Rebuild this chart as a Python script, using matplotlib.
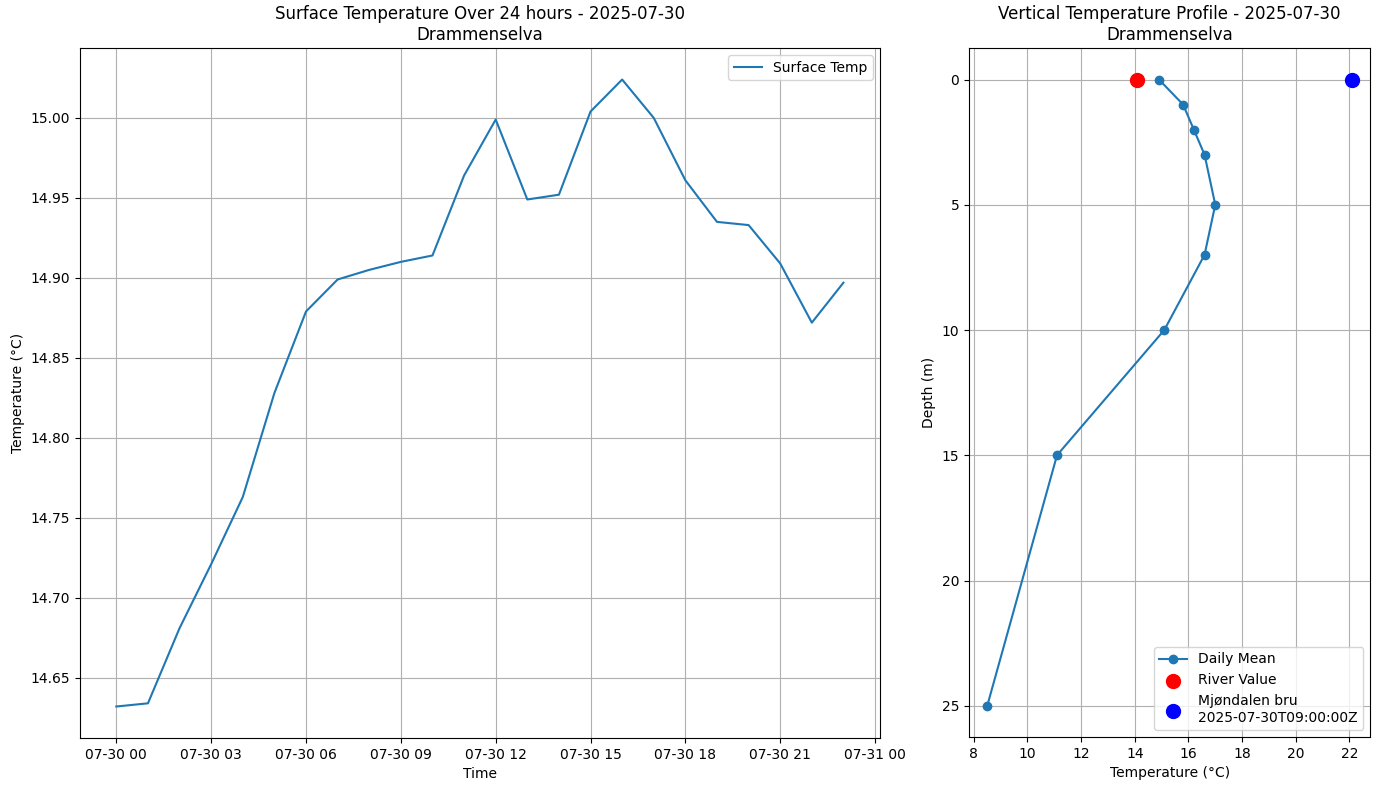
import matplotlib
matplotlib.use("Agg")
import matplotlib.pyplot as plt
import pandas as pd

times = pd.date_range("2025-07-30 00:00", periods=24, freq="h")
surface_temp = [14.632, 14.634, 14.681, 14.721, 14.763, 14.828, 14.879, 14.899,
                14.905, 14.910, 14.914, 14.964, 14.999, 14.949, 14.952, 15.004,
                15.024, 15.000, 14.961, 14.935, 14.933, 14.909, 14.872, 14.897]

depths = [0, 1, 2, 3, 5, 7, 10, 15, 25]
mean_temp = [14.9, 15.8, 16.2, 16.6, 17.0, 16.6, 15.1, 11.1, 8.5]
river_value = 14.1
station_value = 22.1

fig = plt.figure(figsize=(13.79, 7.9))
ax1 = fig.add_axes([0.058, 0.066, 0.580, 0.873])
ax2 = fig.add_axes([0.7027, 0.067, 0.291, 0.872])

ax1.plot(times, surface_temp, label='Surface Temp')
ax1.set_title('Surface Temperature Over 24 hours - 2025-07-30\nDrammenselva')
ax1.set_xlabel('Time')
ax1.set_ylabel('Temperature (°C)')
ax1.grid(True)
ax1.legend()

ax2.plot(mean_temp, depths, marker='o', label='Daily Mean')
ax2.scatter([river_value], [0], color='red', s=100, label='River Value', zorder=3)
ax2.scatter([station_value], [0], color='blue', s=100,
            label='Mjøndalen bru\n2025-07-30T09:00:00Z', zorder=3)
ax2.invert_yaxis()
ax2.set_title('Vertical Temperature Profile - 2025-07-30\nDrammenselva')
ax2.set_xlabel('Temperature (°C)')
ax2.set_ylabel('Depth (m)')
ax2.grid(True)
ax2.legend(loc='lower right')

plt.savefig('out.png', dpi=100)
